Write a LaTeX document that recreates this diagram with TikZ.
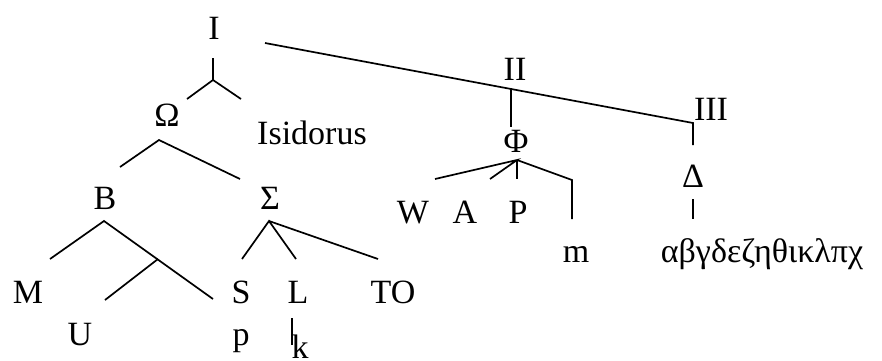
\documentclass[tikz,border=0pt]{standalone}
\usepackage{fontspec}
\setmainfont{Liberation Serif}
\usepackage{tikz}

\begin{document}
\begin{tikzpicture}[x=1pt, y=-1pt, line width=1.7pt, every node/.style={font=\fontsize{34}{40}\selectfont, inner sep=0pt, anchor=base}]
\useasboundingbox (0,0) rectangle (882,360);
% labels
\node (I) at (214,39) {I};
\node (II) at (515,80) {II};
\node (III) at (711,120) {III};
\node (Om) at (167,126) {Ω};
\node (Isi) at (312,144) {Isidorus};
\node (Phi) at (516,152) {Φ};
\node (Del) at (693,187) {Δ};
\node (B) at (105,209) {B};
\node (Sig) at (270,209) {Σ};
\node (W) at (413,223) {W};
\node (A) at (465,223) {A};
\node (P) at (518,223) {P};
\node (m) at (576,262) {m};
\node (gr) at (762,262) {αβγδεζηθικλπχ};
\node (M) at (28,303) {M};
\node (S) at (241,303) {S};
\node (L) at (298,303) {L};
\node (TO) at (393,303) {TO};
\node (U) at (80,345) {U};
\node (p) at (241,345) {p};
\node (k) at (300,358) {k};
% branch points
\coordinate (I-s) at (213,58);
\coordinate (I-j) at (213,80);
\coordinate (I-l) at (187,99);
\coordinate (I-r) at (241,99);
\coordinate (I-e) at (265,43);
\coordinate (II-j) at (511,88);
\coordinate (II-b) at (511,127);
\coordinate (III-j) at (693,123);
\coordinate (III-b) at (693,145);
\coordinate (Om-j) at (159,140);
\coordinate (Om-l) at (120,167);
\coordinate (Om-r) at (240,179);
\coordinate (B-j) at (104,221);
\coordinate (B-l) at (50,259);
\coordinate (B-m) at (158,259);
\coordinate (B-u) at (105,300);
\coordinate (B-r) at (213,299);
\coordinate (Sig-j) at (269,221);
\coordinate (Sig-s) at (242,259);
\coordinate (Sig-l) at (296,259);
\coordinate (Sig-t) at (378,259);
\coordinate (L-t) at (292,318);
\coordinate (L-b) at (292,345);
\coordinate (Phi-j) at (517,160);
\coordinate (Phi-w) at (435,179);
\coordinate (Phi-a) at (490,179);
\coordinate (Phi-p) at (517,179);
\coordinate (Phi-k) at (572,180);
\coordinate (Phi-m) at (572,219);
\coordinate (Del-t) at (693,199);
\coordinate (Del-b) at (693,219);
% edges
\draw (I-s) -- (I-j);
\draw (I-l) -- (I-j) -- (I-r);
\draw (I-e) -- (III-j) -- (III-b);
\draw (II-j) -- (II-b);
\draw (Om-l) -- (Om-j) -- (Om-r);
\draw (B-l) -- (B-j) -- (B-r);
\draw (B-m) -- (B-u);
\draw (Sig-s) -- (Sig-j) -- (Sig-l);
\draw (Sig-j) -- (Sig-t);
\draw (L-t) -- (L-b);
\draw (Phi-w) -- (Phi-j) -- (Phi-a);
\draw (Phi-j) -- (Phi-p);
\draw (Phi-j) -- (Phi-k) -- (Phi-m);
\draw (Del-t) -- (Del-b);
\end{tikzpicture}
\end{document}
